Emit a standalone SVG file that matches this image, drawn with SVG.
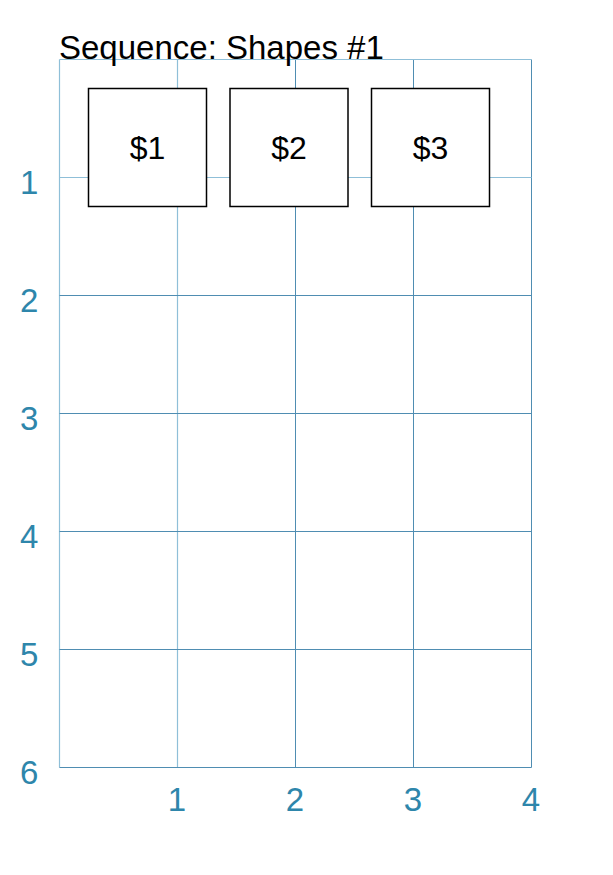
<svg xmlns="http://www.w3.org/2000/svg" width="613" height="875" viewBox="0 0 613 875">
<style>
.g{stroke:#4f8db2;stroke-width:1;fill:none}
.gl{stroke:#8fbfd8;stroke-width:1.2;fill:none}
.ax{font-family:"Liberation Sans",Arial,sans-serif;font-size:33px;fill:#2e86ab}
.box{fill:#fff;stroke:#000;stroke-width:1.5}
.lbl{font-family:"Liberation Sans",Arial,sans-serif;font-size:32px;fill:#000;text-anchor:middle}
</style>
<rect width="613" height="875" fill="#fff"/>
<g id="grid">
<line class="gl" x1="59.5" y1="59.5" x2="59.5" y2="767.5"/>
<line class="gl" x1="177.5" y1="59.5" x2="177.5" y2="767.5"/>
<line class="g" x1="295.5" y1="59.5" x2="295.5" y2="767.5"/>
<line class="g" x1="413.5" y1="59.5" x2="413.5" y2="767.5"/>
<line class="g" x1="531.5" y1="59.5" x2="531.5" y2="767.5"/>
<line class="gl" x1="59.5" y1="59.5" x2="531.5" y2="59.5"/>
<line class="gl" x1="59.5" y1="177.5" x2="531.5" y2="177.5"/>
<line class="g" x1="59.5" y1="295.5" x2="531.5" y2="295.5"/>
<line class="g" x1="59.5" y1="413.5" x2="531.5" y2="413.5"/>
<line class="g" x1="59.5" y1="531.5" x2="531.5" y2="531.5"/>
<line class="g" x1="59.5" y1="649.5" x2="531.5" y2="649.5"/>
<line class="g" x1="59.5" y1="767.5" x2="531.5" y2="767.5"/>
</g>
<g id="axis-labels" class="ax">
<text x="20" y="194">1</text>
<text x="20" y="312">2</text>
<text x="20" y="430">3</text>
<text x="20" y="548">4</text>
<text x="20" y="666">5</text>
<text x="20" y="784">6</text>
<text x="177" y="811" text-anchor="middle">1</text>
<text x="295" y="811" text-anchor="middle">2</text>
<text x="413" y="811" text-anchor="middle">3</text>
<text x="531" y="811" text-anchor="middle">4</text>
</g>
<text id="title" x="59" y="59" font-family="Liberation Sans, Arial, sans-serif" font-size="33" fill="#000">Sequence: Shapes #1</text>
<g id="s1"><rect class="box" x="88.5" y="88.5" width="118" height="118"/><text class="lbl" x="147.5" y="159">$1</text></g>
<g id="s2"><rect class="box" x="230" y="88.5" width="118" height="118"/><text class="lbl" x="289" y="159">$2</text></g>
<g id="s3"><rect class="box" x="371.5" y="88.5" width="118" height="118"/><text class="lbl" x="430.5" y="159">$3</text></g>
</svg>
